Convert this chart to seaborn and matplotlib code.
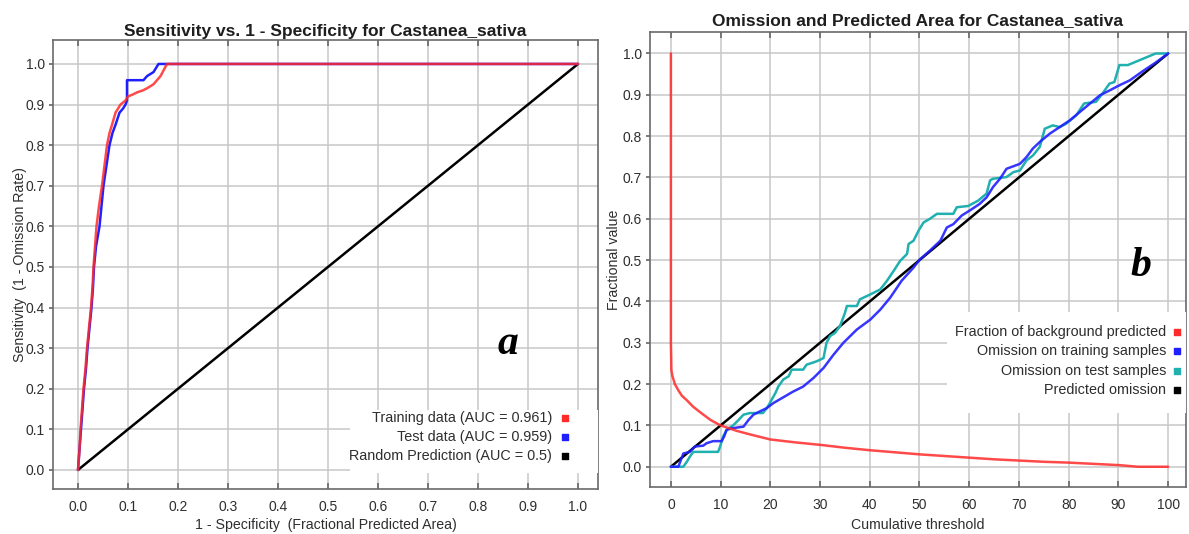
import matplotlib
matplotlib.use("Agg")
import matplotlib.pyplot as plt
from matplotlib import font_manager
from matplotlib.patches import Rectangle
import seaborn as sns
import pandas as pd

# ---------------- data ----------------
roc_train_x = [0, 0.003, 0.005, 0.008, 0.011, 0.015, 0.018, 0.022, 0.026, 0.029, 0.031, 0.034, 0.037,
               0.042, 0.048, 0.053, 0.058, 0.063, 0.068, 0.075, 0.085, 0.095, 0.1, 0.11, 0.118, 0.13,
               0.138, 0.151, 0.165, 0.178, 1.0]
roc_train_y = [0, 0.05, 0.1, 0.15, 0.2, 0.25, 0.3, 0.35, 0.4, 0.45, 0.5, 0.55, 0.6,
               0.65, 0.7, 0.75, 0.8, 0.83, 0.85, 0.88, 0.9, 0.91, 0.92, 0.925, 0.93, 0.935,
               0.94, 0.95, 0.97, 1.0, 1.0]
roc_test_x = [0, 0.003, 0.006, 0.009, 0.012, 0.016, 0.019, 0.023, 0.027, 0.03, 0.032, 0.036, 0.043,
              0.047, 0.051, 0.057, 0.063, 0.069, 0.075, 0.083, 0.09, 0.095, 0.098, 0.098, 0.131,
              0.138, 0.151, 0.161, 1.0]
roc_test_y = [0, 0.05, 0.1, 0.15, 0.2, 0.25, 0.3, 0.35, 0.4, 0.45, 0.5, 0.55, 0.6,
              0.65, 0.7, 0.75, 0.8, 0.83, 0.85, 0.88, 0.89, 0.9, 0.91, 0.96, 0.96,
              0.97, 0.98, 1.0, 1.0]
roc_random_x = [0, 1]
roc_random_y = [0, 1]

bg_thr = [0, 0, 0.05, 0.1, 0.3, 0.8, 1.5, 2.2, 3.2, 4.5, 6.2, 8, 10, 13.2, 16, 20, 25, 30, 35, 40,
          45, 50, 55, 60, 65, 70, 75, 80, 85, 90, 94, 100]
bg_frac = [1.0, 0.30, 0.27, 0.234, 0.22, 0.2, 0.185, 0.172, 0.161, 0.145, 0.129, 0.113, 0.1, 0.087,
           0.078, 0.066, 0.059, 0.053, 0.046, 0.040, 0.035, 0.030, 0.026, 0.022, 0.018, 0.015,
           0.012, 0.010, 0.007, 0.004, 0.0, 0.0]

om_train_thr = [0, 1.5, 2.5, 3.8, 4.8, 6.5, 7.2, 8.5, 10.2, 10.7, 11.2, 12.2, 14.6, 15.6, 16.6, 17.9,
                19.3, 20.6, 22.6, 24.6, 26.6, 28.7, 30.7, 32.7, 34.7, 37.4, 40.1, 42.1, 44.1, 46.4,
                48.8, 50.1, 52.1, 54.2, 55.5, 56.8, 58.5, 60.1, 62.1, 63.5, 64.8, 66.2, 67.5, 70.2,
                71.5, 72.8, 74.2, 76.2, 78.2, 80.2, 82.3, 84.3, 86.3, 88.3, 90.2, 92.3, 95, 97.5, 100]
om_train = [0, 0, 0.032, 0.036, 0.049, 0.051, 0.057, 0.062, 0.062, 0.073, 0.089, 0.093, 0.097, 0.113,
            0.126, 0.134, 0.142, 0.154, 0.168, 0.182, 0.194, 0.215, 0.239, 0.271, 0.30, 0.332, 0.356,
            0.38, 0.409, 0.45, 0.482, 0.502, 0.523, 0.547, 0.579, 0.587, 0.608, 0.62, 0.636, 0.652,
            0.677, 0.697, 0.721, 0.733, 0.749, 0.77, 0.786, 0.806, 0.822, 0.838, 0.859, 0.879, 0.899,
            0.911, 0.923, 0.935, 0.958, 0.978, 1.0]

om_test_thr = [0, 2.5, 3.2, 3.8, 4.5, 9.5, 9.9, 10.5, 11.2, 12.6, 13.6, 14.6, 15.9, 18.5, 19.3, 19.9,
               21.0, 21.6, 22.6, 23.7, 24.3, 26.6, 27.3, 29.3, 30.7, 31.3, 32.0, 33.0, 34.0, 35.0,
               35.4, 37.4, 38.0, 40.1, 42.1, 43.4, 44.8, 46.1, 47.5, 47.8, 48.8, 49.8, 50.8, 52.1,
               53.5, 56.8, 57.5, 59.8, 61.8, 63.5, 64.2, 64.8, 67.5, 68.9, 70.2, 71.5, 72.8, 74.2,
               75.2, 76.8, 78.2, 79.5, 81.5, 83.1, 85.5, 86.8, 88.2, 89.2, 90.2, 91.9, 95.5, 97.5, 100]
om_test = [0, 0, 0.012, 0.024, 0.036, 0.036, 0.049, 0.073, 0.089, 0.101, 0.113, 0.126, 0.13, 0.13,
           0.142, 0.154, 0.178, 0.194, 0.211, 0.219, 0.235, 0.235, 0.247, 0.255, 0.263, 0.30, 0.316,
           0.324, 0.34, 0.372, 0.389, 0.389, 0.405, 0.417, 0.429, 0.449, 0.474, 0.498, 0.515, 0.539,
           0.547, 0.571, 0.591, 0.6, 0.612, 0.612, 0.628, 0.631, 0.644, 0.661, 0.693, 0.697, 0.701,
           0.713, 0.717, 0.741, 0.753, 0.774, 0.818, 0.826, 0.822, 0.83, 0.85, 0.879, 0.883, 0.903,
           0.927, 0.931, 0.972, 0.972, 0.99, 1.0, 1.0]
om_pred_thr = [0, 100]
om_pred = [0, 1]

left_ticks = [0.0, 0.1, 0.2, 0.3, 0.4, 0.5, 0.6, 0.7, 0.8, 0.9, 1.0]
right_xticks = [0, 10, 20, 30, 40, 50, 60, 70, 80, 90, 100]

left_legend = ["Training data (AUC = 0.961)", "Test data (AUC = 0.959)", "Random Prediction (AUC = 0.5)"]
right_legend = ["Fraction of background predicted", "Omission on training samples",
                "Omission on test samples", "Predicted omission"]

# ---------------- style ----------------
sns.set_theme(style="white")
installed = {f.name for f in font_manager.fontManager.ttflist}
base_font = "Liberation Sans" if "Liberation Sans" in installed else "DejaVu Sans"
plt.rcParams["font.family"] = [base_font, "DejaVu Sans"]

TXT = "#2e2e2e"
GRID = "#c8c8c8"
SPINE = "#6a6a6a"
RED = "#ff2a2a"
BLUE = "#2020ff"
TEAL = "#20b0b0"

fig = plt.figure(figsize=(11.89, 5.34), dpi=100)
W, H = 1189, 534


def add_ax(x0, y0, x1, y1):
    return fig.add_axes([x0 / W, 1 - y1 / H, (x1 - x0) / W, (y1 - y0) / H])


axL = add_ax(53, 40, 598, 489)
axR = add_ax(650, 32, 1186, 487)


def style_ax(ax, xticks, yticks, xlim, ylim):
    ax.set_xlim(*xlim)
    ax.set_ylim(*ylim)
    ax.set_xticks(xticks)
    ax.set_yticks(yticks)
    ax.grid(True, color=GRID, linewidth=1.1, zorder=0)
    ax.set_axisbelow(True)
    for s in ax.spines.values():
        s.set_color(SPINE)
        s.set_linewidth(1.2)
    ax.tick_params(axis="x", direction="in", length=4, color=SPINE, labelsize=10,
                   labelcolor=TXT, top=True, bottom=True, pad=8)
    ax.tick_params(axis="y", direction="out", length=3, color=SPINE, labelsize=10,
                   labelcolor=TXT, left=True, right=False, pad=3)


# ---------------- left panel ----------------
style_ax(axL, left_ticks, left_ticks, (-0.05, 1.04), (-0.047, 1.059))
axL.set_xticklabels([f"{t:.1f}" for t in left_ticks])
axL.set_yticklabels([f"{t:.1f}" for t in left_ticks])

sns.lineplot(x=roc_random_x, y=roc_random_y, ax=axL, color="black", linewidth=1.8,
             sort=False, estimator=None, zorder=3)
sns.lineplot(x=roc_test_x, y=roc_test_y, ax=axL, color=BLUE, linewidth=1.8,
             sort=False, estimator=None, zorder=4)
sns.lineplot(x=roc_train_x, y=roc_train_y, ax=axL, color=RED, linewidth=1.8, alpha=0.85,
             sort=False, estimator=None, zorder=5)

axL.set_title("Sensitivity vs. 1 - Specificity for Castanea_sativa", fontsize=12.5,
              fontweight="bold", color="#1e1e1e", pad=3)
axL.set_xlabel("1 - Specificity  (Fractional Predicted Area)", fontsize=10.2, color=TXT, labelpad=3)
axL.set_ylabel("Sensitivity  (1 - Omission Rate)", fontsize=10.2, color=TXT, labelpad=-1)

axL.add_patch(Rectangle((0.545, 0.036), 0.455, 0.14, transform=axL.transAxes,
                        facecolor="white", edgecolor="none", zorder=6))
for i, (lab, col) in enumerate(zip(left_legend, [RED, BLUE, "black"])):
    yy = 0.158 - i * 0.0425
    axL.text(0.9156, yy, lab, transform=axL.transAxes, ha="right", va="center",
             fontsize=10.4, color=TXT, zorder=7)
    axL.scatter([0.939], [yy], transform=axL.transAxes, marker="s", s=22, color=col,
                zorder=7, clip_on=False)

axL.text(0.835, 0.322, "a", transform=axL.transAxes, fontsize=30, fontweight="bold",
         fontstyle="italic", family=["Liberation Serif", "DejaVu Serif"], color="black",
         ha="center", va="center", zorder=7)

# ---------------- right panel ----------------
style_ax(axR, right_xticks, left_ticks, (-4.2, 103.6), (-0.049, 1.052))
axR.set_yticklabels([f"{t:.1f}" for t in left_ticks])

sns.lineplot(x=om_pred_thr, y=om_pred, ax=axR, color="black", linewidth=1.8,
             sort=False, estimator=None, zorder=3)
sns.lineplot(x=om_test_thr, y=om_test, ax=axR, color=TEAL, linewidth=1.8,
             sort=False, estimator=None, zorder=4)
sns.lineplot(x=om_train_thr, y=om_train, ax=axR, color=BLUE, linewidth=1.8, alpha=0.9,
             sort=False, estimator=None, zorder=5)
sns.lineplot(x=bg_thr, y=bg_frac, ax=axR, color=RED, linewidth=1.8, alpha=0.85,
             sort=False, estimator=None, zorder=6)

axR.set_title("Omission and Predicted Area for Castanea_sativa", fontsize=12.5,
              fontweight="bold", color="#1e1e1e", pad=5)
axR.set_xlabel("Cumulative threshold", fontsize=10.2, color=TXT, labelpad=4)
axR.set_ylabel("Fractional value", fontsize=10.2, color=TXT, labelpad=1)

axR.add_patch(Rectangle((0.555, 0.163), 0.445, 0.222, transform=axR.transAxes,
                        facecolor="white", edgecolor="none", zorder=7))
for i, (lab, col) in enumerate(zip(right_legend, [RED, BLUE, TEAL, "black"])):
    yy = 0.341 - i * 0.0427
    axR.text(0.963, yy, lab, transform=axR.transAxes, ha="right", va="center",
             fontsize=10.4, color=TXT, zorder=8)
    axR.scatter([0.983], [yy], transform=axR.transAxes, marker="s", s=22, color=col,
                zorder=8, clip_on=False)

axR.text(0.915, 0.485, "b", transform=axR.transAxes, fontsize=30, fontweight="bold",
         fontstyle="italic", family=["Liberation Serif", "DejaVu Serif"], color="black",
         ha="center", va="center", zorder=8)

fig.savefig("out.png", dpi=100, facecolor="white")
